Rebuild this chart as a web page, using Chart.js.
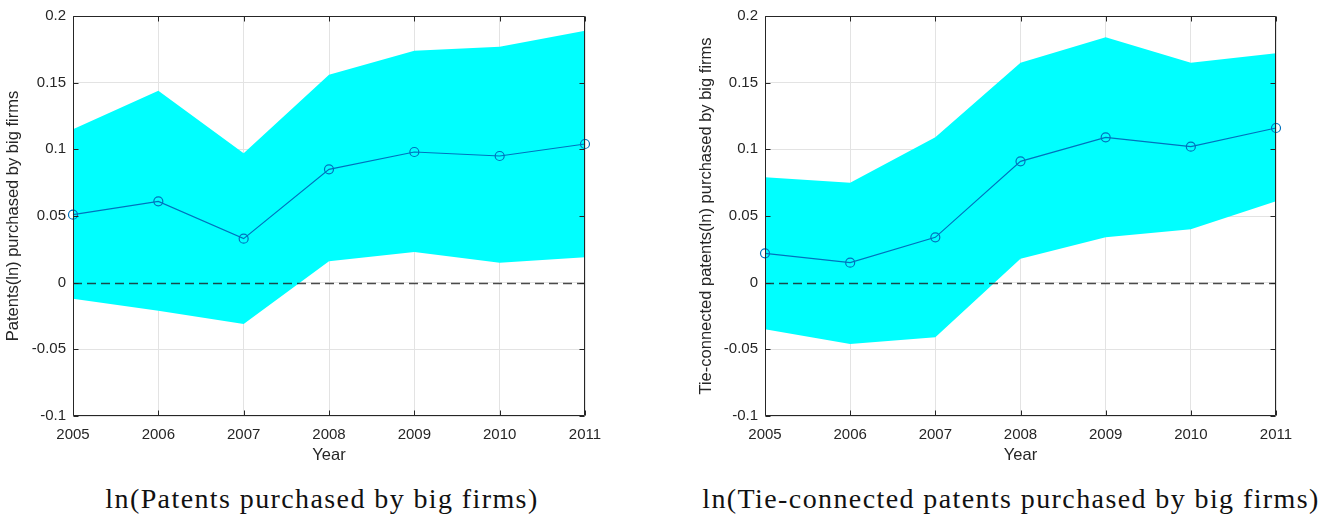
<!DOCTYPE html>
<html>
<head>
<meta charset="utf-8">
<script src="https://cdn.jsdelivr.net/npm/chart.js@4.4.1/dist/chart.umd.min.js"></script>
<style>
  html, body { margin: 0; padding: 0; background: #fff; }
  body { width: 1341px; height: 522px; position: relative; overflow: hidden; }
  .panel { position: absolute; top: 0; height: 470px; }
  .caption {
    position: absolute; top: 483px; height: 32px; line-height: 32px;
    font-family: "Liberation Serif", "Times New Roman", serif; font-size: 28px;
    letter-spacing: 1.4px;
    color: #111; text-align: center; white-space: nowrap;
  }
</style>
</head>
<body>
<div class="panel" style="left:0;width:670px;"><canvas id="c1" width="670" height="470"></canvas></div>
<div class="panel" style="left:690px;width:651px;"><canvas id="c2" width="651" height="470"></canvas></div>
<div class="caption" style="left:72px;width:500px;">ln(Patents purchased by big firms)</div>
<div class="caption" style="left:661px;width:700px;">ln(Tie-connected patents purchased by big firms)</div>
<script>
// Event-study years
const years = ['2005', '2006', '2007', '2008', '2009', '2010', '2011'];

// y-axis tick values and labels
const yTickValues = [-0.1, -0.05, 0, 0.05, 0.1, 0.15, 0.2];
const yTickLabels = ['-0.1', '-0.05', '0', '0.05', '0.1', '0.15', '0.2'];

// Patents(ln) purchased by big firms: estimate and confidence band
const patMean  = [0.051, 0.061, 0.033, 0.085, 0.098, 0.095, 0.104];
const patUpper = [0.115, 0.144, 0.097, 0.156, 0.174, 0.177, 0.189];
const patLower = [-0.012, -0.021, -0.031, 0.016, 0.023, 0.015, 0.019];

// Tie-connected patents(ln) purchased by big firms
const tieMean  = [0.022, 0.015, 0.034, 0.091, 0.109, 0.102, 0.116];
const tieUpper = [0.079, 0.075, 0.109, 0.165, 0.184, 0.165, 0.172];
const tieLower = [-0.035, -0.046, -0.041, 0.018, 0.034, 0.040, 0.061];

// Horizontal reference level
const refLevel = 0;

const AXIS_COLOR = '#262626';
const GRID_COLOR = '#e3e3e3';
const BAND_COLOR = '#00ffff';
const LINE_COLOR = '#0072bd';
const FONT_FAMILY = 'Liberation Sans, Arial, Helvetica, sans-serif';
const TICK_FONT = { family: FONT_FAMILY, size: 15 };
const LABEL_FONT = { family: FONT_FAMILY, size: 16.5 };

// Reference dashed line at y = refLevel, drawn above the band
const refLinePlugin = {
  id: 'refLine',
  afterDatasetsDraw(chart) {
    const { ctx, chartArea, scales } = chart;
    const y = Math.round(scales.y.getPixelForValue(refLevel)) + 0.5;
    ctx.save();
    ctx.strokeStyle = 'rgba(30,30,30,0.8)';
    ctx.lineWidth = 1.3;
    ctx.setLineDash([9, 5]);
    ctx.beginPath();
    ctx.moveTo(chartArea.left, y);
    ctx.lineTo(chartArea.right, y);
    ctx.stroke();
    ctx.restore();
  }
};

// Full axis box with inward tick marks on all four sides
const boxPlugin = {
  id: 'axisBox',
  afterDraw(chart) {
    const { ctx, chartArea: a, scales } = chart;
    const L = Math.round(a.left) + 0.5, R = Math.round(a.right) - 0.5;
    const T = Math.round(a.top) + 0.5, B = Math.round(a.bottom) - 0.5;
    const len = 5;
    ctx.save();
    ctx.strokeStyle = AXIS_COLOR;
    ctx.lineWidth = 1;
    ctx.beginPath();
    ctx.rect(L, T, R - L, B - T);
    scales.x.ticks.forEach((t, i) => {
      const x = Math.round(scales.x.getPixelForTick(i)) + 0.5;
      ctx.moveTo(x, B); ctx.lineTo(x, B - len);
      ctx.moveTo(x, T); ctx.lineTo(x, T + len);
    });
    scales.y.ticks.forEach((t) => {
      const y = Math.round(scales.y.getPixelForValue(t.value)) + 0.5;
      ctx.moveTo(L, y); ctx.lineTo(L + len, y);
      ctx.moveTo(R, y); ctx.lineTo(R - len, y);
    });
    ctx.stroke();
    ctx.restore();
  }
};

function makeChart(id, upper, lower, mean, yTitle, yWidth, titlePad, padRight) {
  return new Chart(document.getElementById(id), {
    type: 'line',
    data: {
      labels: years,
      datasets: [
        {
          data: mean, order: 0,
          borderColor: LINE_COLOR, borderWidth: 1.2,
          pointStyle: 'circle', pointRadius: 4.5, pointBorderWidth: 1.2,
          pointBackgroundColor: 'rgba(0,0,0,0)', pointBorderColor: LINE_COLOR,
          fill: false, tension: 0
        },
        {
          data: upper, order: 1,
          borderWidth: 0, borderColor: BAND_COLOR, pointRadius: 0,
          backgroundColor: BAND_COLOR, fill: '+1', tension: 0
        },
        {
          data: lower, order: 2,
          borderWidth: 0, borderColor: BAND_COLOR, pointRadius: 0,
          backgroundColor: BAND_COLOR, fill: false, tension: 0
        }
      ]
    },
    options: {
      responsive: false,
      animation: false,
      events: [],
      layout: { padding: { left: 0, top: 14, right: padRight, bottom: 0 } },
      plugins: { legend: { display: false }, tooltip: { enabled: false } },
      scales: {
        x: {
          type: 'category', offset: false,
          grid: { color: GRID_COLOR, drawTicks: false },
          border: { display: false },
          ticks: { color: AXIS_COLOR, font: TICK_FONT, padding: 10, maxRotation: 0, autoSkip: false },
          title: { display: true, text: 'Year', color: AXIS_COLOR, font: LABEL_FONT, padding: { bottom: 5, top: 0 } },
          afterFit(scale) { scale.height = 54; }
        },
        y: {
          type: 'linear', min: -0.1, max: 0.2,
          afterBuildTicks(scale) { scale.ticks = yTickValues.map(v => ({ value: v })); },
          grid: { color: GRID_COLOR, drawTicks: false },
          border: { display: false },
          ticks: {
            color: AXIS_COLOR, font: TICK_FONT, padding: 7,
            callback(value) {
              const i = yTickValues.findIndex(v => Math.abs(v - value) < 1e-9);
              return i >= 0 ? yTickLabels[i] : '';
            }
          },
          title: { display: true, text: yTitle, color: AXIS_COLOR, font: LABEL_FONT, padding: { top: titlePad, bottom: 0 } },
          afterFit(scale) { scale.width = yWidth; }
        }
      }
    },
    plugins: [refLinePlugin, boxPlugin]
  });
}

makeChart('c1', patUpper, patLower, patMean, 'Patents(ln) purchased by big firms', 73, 4, 85);
makeChart('c2', tieUpper, tieLower, tieMean, 'Tie-connected patents(ln) purchased by big firms', 75, 7, 65);
</script>
</body>
</html>
